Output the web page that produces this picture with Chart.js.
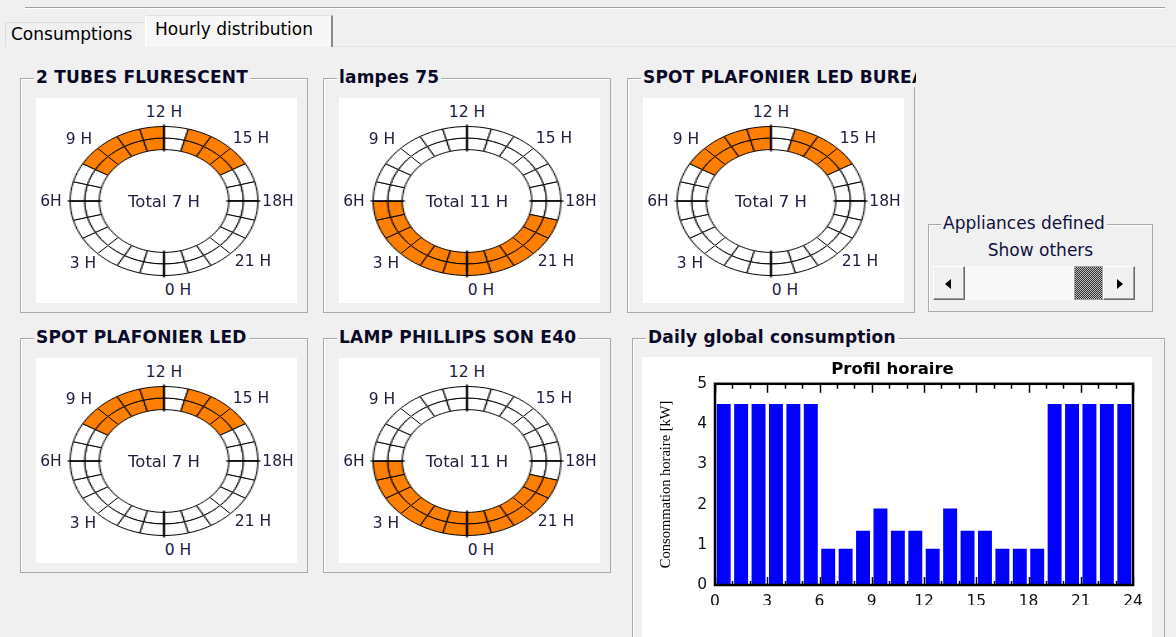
<!DOCTYPE html>
<html lang="en">
<head>
<meta charset="UTF-8">
<title>Hourly distribution</title>
<script src="https://cdn.jsdelivr.net/npm/chart.js@4.4.0/dist/chart.umd.min.js"></script>
<style>
  body { margin:0; width:1176px; height:637px; overflow:hidden; background:#f0f0f0;
         font-family:"DejaVu Sans", sans-serif; color:#000; position:relative; }
  .abs { position:absolute; }
  .topline { left:25px; top:7px; width:1140px; height:1px; background:#a0a0a0; border-bottom:1px solid #fff; }
  .tab { position:absolute; font-size:17px; box-sizing:border-box; white-space:nowrap; }
  .tab1 { left:5px; top:22px; width:140px; height:25px; border-top:1px solid #dcdcdc; border-left:1px solid #dcdcdc; padding:1px 0 0 5px; }
  .tab2 { left:145px; top:15px; width:188px; height:32px; background:#f7f7f7; border-top:1px solid #e2e2e2; border-left:1px solid #fff;
          border-right:2px solid #8a8a8a; padding:3px 0 0 9px; }
  .tabline { left:333px; top:46px; width:843px; height:1px; background:#e4e4e4; }
  .group { position:absolute; width:288px; height:235px; box-sizing:border-box; border:1px solid #a9a9a9; box-shadow:inset 1px 1px #fff; }
  .gtitle { position:absolute; left:13px; top:-12px; padding:0 2px; background:#f0f0f0; font-weight:bold; font-size:17px;
            letter-spacing:0.2px; white-space:nowrap; overflow:hidden; color:#0a0a28; }
  .panel { position:absolute; left:15px; top:19px; width:261px; height:205px; background:#fff; overflow:hidden; }
  .ringwrap { position:absolute; left:50px; top:25px; width:156px; height:156px; transform:scaleX(1.26); transform-origin:78px 78px; }
  .hl { position:absolute; font-size:15.5px; color:#202040; transform:translate(-50%,-50%); white-space:nowrap; }
  .total { font-size:16.5px; }
  .app { left:928px; top:224px; width:225px; height:88px; box-sizing:border-box; border:1px solid #a9a9a9; box-shadow:inset 1px 1px #fff; }
  .app .gtitle { font-weight:normal; font-size:17px; letter-spacing:0; left:12px; top:-12px; color:#101040; }
  .show { position:absolute; left:0; width:100%; top:15px; text-align:center; font-size:17px; color:#101040; }
  .sbar { position:absolute; left:4px; top:41px; width:202px; height:34px;
          background:repeating-conic-gradient(#f2f2f2 0 25%, #fff 0 50%) 0 0/2px 2px; }
  .btn { position:absolute; top:0; width:32px; height:34px; box-sizing:border-box; background:#f0f0f0;
         border:1px solid; border-color:#fff #696969 #696969 #fff; box-shadow:inset -1px -1px #a0a0a0; }
  .thumb { position:absolute; left:141px; top:0; width:29px; height:34px; box-sizing:border-box;
           background:repeating-conic-gradient(#333 0 25%, #bbb 0 50%) 0 0/2px 2px; border:1px solid #a0a0a0; }
  .arr { position:absolute; top:12px; width:0; height:0; border-top:5px solid transparent; border-bottom:5px solid transparent; }
  .daily { left:632px; top:338px; width:533px; height:320px; }
  .barpanel { position:absolute; left:642px; top:357px; width:510px; height:280px; background:#fff; }
</style>
</head>
<body>
<div class="abs topline"></div>
<div class="tab tab1">Consumptions</div>
<div class="tab tab2">Hourly distribution</div>
<div class="abs tabline"></div>

<div id="groups"></div>

<div class="abs app">
  <div class="gtitle">Appliances defined</div>
  <div class="show">Show others</div>
  <div class="sbar">
    <div class="btn" style="left:0"><div class="arr" style="left:11px;border-right:6px solid #000"></div></div>
    <div class="thumb"></div>
    <div class="btn" style="left:170px"><div class="arr" style="left:13px;border-left:6px solid #000"></div></div>
  </div>
</div>

<div class="group daily"><div class="gtitle">Daily global consumption</div></div>
<div class="barpanel"><canvas id="bars" width="510" height="280"></canvas></div>

<script>
// hours of the day, one slot each
const hourLabels = ['0','1','2','3','4','5','6','7','8','9','10','11','12','13','14','15','16','17','18','19','20','21','22','23'];
const hourSlot = [1,1,1,1,1,1,1,1,1,1,1,1,1,1,1,1,1,1,1,1,1,1,1,1];

const applianceNames = ['2 TUBES FLURESCENT', 'lampes 75', 'SPOT PLAFONIER LED BUREAU', 'SPOT PLAFONIER LED', 'LAMP PHILLIPS SON E40'];
// 1 = appliance on during that hour
const tubesOn      = [0,0,0,0,0,0,0,0,1,1,1,1,0,1,1,1,0,0,0,0,0,0,0,0];
const lampes75On   = [1,1,1,1,1,1,0,0,0,0,0,0,0,0,0,0,0,0,0,1,1,1,1,1];
const spotBureauOn = [0,0,0,0,0,0,0,0,1,1,1,1,0,1,1,1,0,0,0,0,0,0,0,0];
const spotLedOn    = [0,0,0,0,0,0,0,0,1,1,1,1,0,1,1,1,0,0,0,0,0,0,0,0];
const phillipsOn   = [1,1,1,1,1,1,0,0,0,0,0,0,0,0,0,0,0,0,0,1,1,1,1,1];
const applianceOn = [tubesOn, lampes75On, spotBureauOn, spotLedOn, phillipsOn];

const ringLabels = ['0 H','3 H','6H','9 H','12 H','15 H','18H','21 H'];

// global hourly consumption, kW
const globalKw = [4.5,4.5,4.5,4.5,4.5,4.5,0.9,0.9,1.35,1.9,1.35,1.35,0.9,1.9,1.35,1.35,0.9,0.9,0.9,4.5,4.5,4.5,4.5,4.5];

const boxPos = [[20,78],[323,78],[627,78],[20,338],[323,338]];
const labelPos = [[14,89],[-81,62],[-113,0],[-85,-62],[0,-89],[87,-63],[114,0],[89,60]];
const ringCenter = [128,103];

// longer marks at 0, 6, 12 and 18 H
const quarterMarks = {
  id: 'quarterMarks',
  afterDraw(chart) {
    const outer = chart.getDatasetMeta(0).data;
    const inner = chart.getDatasetMeta(1).data;
    const ctx = chart.ctx;
    ctx.save();
    ctx.strokeStyle = '#000';
    ctx.lineWidth = 1.4;
    [0, 6, 12, 18].forEach(h => {
      const a = outer[h].startAngle;
      const cx = outer[h].x, cy = outer[h].y;
      const r0 = inner[h].innerRadius - 2, r1 = outer[h].outerRadius + 2;
      ctx.beginPath();
      ctx.moveTo(cx + r0 * Math.cos(a), cy + r0 * Math.sin(a));
      ctx.lineTo(cx + r1 * Math.cos(a), cy + r1 * Math.sin(a));
      ctx.stroke();
    });
    ctx.restore();
  }
};

const groups = document.getElementById('groups');
applianceNames.forEach((name, i) => {
  const g = document.createElement('div');
  g.className = 'group';
  g.style.left = boxPos[i][0] + 'px';
  g.style.top = boxPos[i][1] + 'px';
  g.innerHTML = '<div class="gtitle" style="max-width:271px">' + name + '</div>';
  const p = document.createElement('div');
  p.className = 'panel';
  const w = document.createElement('div');
  w.className = 'ringwrap';
  const c = document.createElement('canvas');
  c.width = 156; c.height = 156;
  w.appendChild(c);
  p.appendChild(w);
  ringLabels.forEach((t, k) => {
    const l = document.createElement('div');
    l.className = 'hl';
    l.textContent = t;
    l.style.left = (ringCenter[0] + labelPos[k][0]) + 'px';
    l.style.top = (ringCenter[1] + labelPos[k][1]) + 'px';
    p.appendChild(l);
  });
  const tot = document.createElement('div');
  tot.className = 'hl total';
  tot.textContent = 'Total ' + applianceOn[i].reduce((a, b) => a + b, 0) + ' H';
  tot.style.left = ringCenter[0] + 'px';
  tot.style.top = ringCenter[1] + 'px';
  p.appendChild(tot);
  g.appendChild(p);
  groups.appendChild(g);
  makeRing(c, applianceOn[i]);
});

function makeRing(canvas, on) {
  const colors = on.map(v => v ? '#ff8000' : '#ffffff');
  const ds = () => ({ data: hourSlot, backgroundColor: colors, borderColor: '#000', borderWidth: 1 });
  new Chart(canvas, {
    type: 'doughnut',
    data: { labels: hourLabels, datasets: [ds(), ds()] },
    options: {
      responsive: false, animation: false, events: [],
      rotation: 180, cutout: '69%',
      layout: { padding: 3 },
      plugins: { legend: { display: false }, tooltip: { enabled: false } }
    },
    plugins: [quarterMarks]
  });
}

// frame and small hour ticks of the profile chart
const framePlugin = {
  id: 'frame',
  afterDatasetsDraw(chart) {
    const { ctx, chartArea: a, scales: { x } } = chart;
    ctx.save();
    ctx.strokeStyle = '#000';
    ctx.lineWidth = 1.5;
    for (let h = 0; h <= 24; h++) {
      const px = Math.round(x.getPixelForValue(h)) + 0.5;
      const len = h % 3 === 0 ? 9 : 5;
      ctx.beginPath();
      ctx.moveTo(px, a.top); ctx.lineTo(px, a.top + len);
      ctx.moveTo(px, a.bottom); ctx.lineTo(px, a.bottom - (h % 3 === 0 ? 8 : 4));
      ctx.stroke();
    }
    ctx.lineWidth = 2.5;
    ctx.strokeRect(a.left, a.top, a.right - a.left, a.bottom - a.top);
    ctx.restore();
  }
};

const tickFont = { family: 'DejaVu Sans', size: 15.5 };
new Chart(document.getElementById('bars'), {
  type: 'bar',
  data: {
    datasets: [{
      data: globalKw.map((v, i) => ({ x: Number(hourLabels[i]) + 0.5, y: v })),
      backgroundColor: '#0000ff',
      barPercentage: 0.8, categoryPercentage: 1
    }]
  },
  options: {
    responsive: false, animation: false, events: [],
    layout: { padding: { left: 10, right: 19, top: 0, bottom: 32 } },
    plugins: {
      legend: { display: false }, tooltip: { enabled: false },
      title: { display: true, text: 'Profil horaire', color: '#000',
               font: { family: 'DejaVu Sans', size: 16.5, weight: 'bold' }, padding: { top: 3, bottom: 4 } }
    },
    scales: {
      x: {
        type: 'linear', min: 0, max: 24, offset: false,
        grid: { display: false, drawTicks: false }, border: { display: false },
        ticks: { stepSize: 3, padding: 8, font: tickFont, color: '#111', maxRotation: 0 },
        afterFit(s) { s.height = 20; }
      },
      y: {
        min: 0, max: 5,
        grid: { display: false, drawTicks: false }, border: { display: false },
        ticks: { stepSize: 1, padding: 8, font: tickFont, color: '#111' },
        title: { display: true, text: 'Consommation horaire [kW]', color: '#000',
                 font: { family: 'Liberation Serif', size: 14.5 }, padding: { top: 5, bottom: 0 } },
        afterFit(s) { s.width = 63; }
      }
    }
  },
  plugins: [framePlugin]
});
</script>
</body>
</html>
